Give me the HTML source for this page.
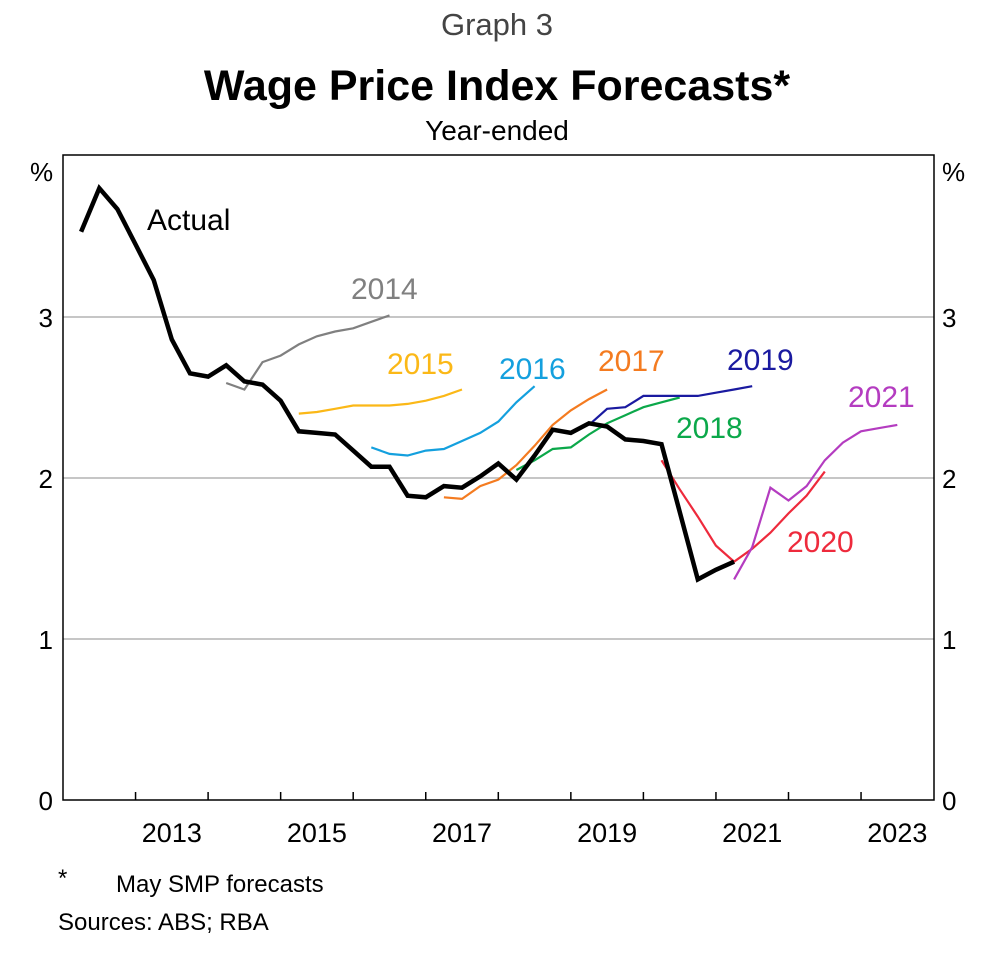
<!DOCTYPE html>
<html><head><meta charset="utf-8"><style>
body{margin:0;background:#fff;}
svg text{font-family:"Liberation Sans",Arial,sans-serif;}
</style></head><body>
<svg id="chart" width="986" height="950" viewBox="0 0 986 950" xmlns="http://www.w3.org/2000/svg">
<text x="497" y="35" font-size="31" fill="#444" text-anchor="middle">Graph 3</text>
<text x="497" y="100" font-size="43" font-weight="bold" text-anchor="middle">Wage Price Index Forecasts*</text>
<text x="497" y="140" font-size="28" text-anchor="middle">Year-ended</text>
<g id="grid"></g>
<g id="series"></g>
<rect x="63" y="155" width="871" height="645" fill="none" stroke="#000" stroke-width="1.5"/>
<g id="axes"></g>
<text x="30" y="181" font-size="26">%</text>
<text x="942" y="181" font-size="26">%</text>
<text x="58" y="886" font-size="24">*</text>
<text x="116" y="892" font-size="24">May SMP forecasts</text>
<text x="58" y="930" font-size="24">Sources: ABS; RBA</text>
</svg>
<script>
const yTicks=[0,1,2,3];
const xYearLabels=[2013,2015,2017,2019,2021,2023];
const actualStart=2012.25;
const actualValues=[3.53,3.80,3.67,3.45,3.23,2.86,2.65,2.63,2.70,2.60,2.58,2.48,2.29,2.28,2.27,2.17,2.07,2.07,1.89,1.88,1.95,1.94,2.01,2.09,1.99,2.14,2.30,2.28,2.34,2.32,2.24,2.23,2.21,1.79,1.37,1.43,1.48];
const f2014Start=2014.25, f2014=[2.59,2.55,2.72,2.76,2.83,2.88,2.91,2.93,2.97,3.01];
const f2015Start=2015.25, f2015=[2.40,2.41,2.43,2.45,2.45,2.45,2.46,2.48,2.51,2.55];
const f2016Start=2016.25, f2016=[2.19,2.15,2.14,2.17,2.18,2.23,2.28,2.35,2.47,2.57];
const f2017Start=2017.25, f2017=[1.88,1.87,1.95,1.99,2.08,2.20,2.33,2.42,2.49,2.55];
const f2018Start=2018.25, f2018=[2.05,2.11,2.18,2.19,2.27,2.34,2.39,2.44,2.47,2.50];
const f2019Start=2019.25, f2019=[2.33,2.43,2.44,2.51,2.51,2.51,2.51,2.53,2.55,2.57];
const f2020Start=2020.25, f2020=[2.11,1.93,1.76,1.58,1.48,1.56,1.66,1.78,1.89,2.04];
const f2021Start=2021.25, f2021=[1.37,1.57,1.94,1.86,1.95,2.11,2.22,2.29,2.31,2.33];

const NS="http://www.w3.org/2000/svg";
const X=t=>63+72.55*(t-2012);
const Y=v=>800-161*v;
const grid=document.getElementById('grid'),axes=document.getElementById('axes'),ser=document.getElementById('series');
function mk(tag,parent,attrs){const e=document.createElementNS(NS,tag);for(const k in attrs)e.setAttribute(k,attrs[k]);parent.appendChild(e);return e;}
yTicks.forEach(v=>{
  if(v>0){const g=mk('line',grid,{x1:63,x2:934,y1:Y(v),y2:Y(v),stroke:'#b3b3b3','stroke-width':1.5});
  
  }
  const l=mk('text',axes,{x:53,y:Y(v)+10,'font-size':26,'text-anchor':'end'});l.textContent=v;
  
  
  const r=mk('text',axes,{x:942,y:Y(v)+10,'font-size':26});r.textContent=v;
  
  
});
for(let yr=2013;yr<=2023;yr++){
  const t=mk('line',axes,{x1:X(yr),x2:X(yr),y1:800,y2:792,stroke:'#000','stroke-width':1.5});
  
  
}
xYearLabels.forEach(yr=>{
  const l=mk('text',axes,{x:X(yr+0.5),y:842,'font-size':27,'text-anchor':'middle'});l.textContent=yr;
  
  
});
function line(start,vals,color,w,name){
  const pts=vals.map((v,i)=>X(start+0.25*i).toFixed(1)+','+Y(v).toFixed(1)).join(' ');
  const p=mk('polyline',ser,{points:pts,fill:'none',stroke:color,'stroke-width':w,'stroke-linejoin':'miter'});
  
  
}
line(f2014Start,f2014,'#808080',2.2,'forecast-2014-line');
line(f2015Start,f2015,'#fbb817',2.2,'forecast-2015-line');
line(f2016Start,f2016,'#14a0de',2.2,'forecast-2016-line');
line(f2017Start,f2017,'#f47b20',2.2,'forecast-2017-line');
line(f2018Start,f2018,'#0ba84a',2.2,'forecast-2018-line');
line(f2019Start,f2019,'#1a1aa0',2.2,'forecast-2019-line');
line(f2020Start,f2020,'#ee2a3c',2.2,'forecast-2020-line');
line(f2021Start,f2021,'#b43cc0',2.2,'forecast-2021-line');
line(actualStart,actualValues,'#000',4.5,'actual-line');
const labels=[['Actual',147,230,'#000'],['2014',351,299,'#808080'],['2015',387,374,'#fbb817'],['2016',499,379,'#14a0de'],['2017',598,371,'#f47b20'],['2018',676,438,'#0ba84a'],['2019',727,370,'#1a1aa0'],['2020',787,552,'#ee2a3c'],['2021',848,407,'#b43cc0']];
labels.forEach(([s,x,y,c])=>{
  const t=mk('text',ser,{x:x,y:y,'font-size':30,fill:c});t.textContent=s;
  
  
});
</script>
</body></html>
